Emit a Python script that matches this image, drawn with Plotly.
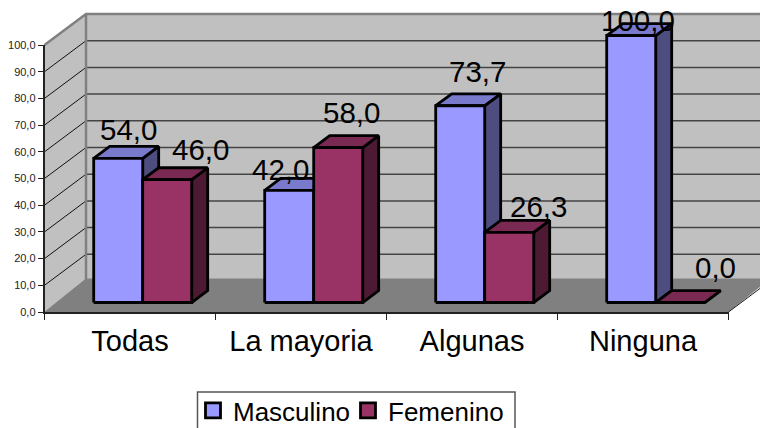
import plotly.graph_objects as go

categories = ["Todas", "La mayoria", "Algunas", "Ninguna"]
masculino = [54.0, 42.0, 73.7, 100.0]
femenino = [46.0, 58.0, 26.3, 0.0]
y_ticks = [0, 10, 20, 30, 40, 50, 60, 70, 80, 90, 100]

# value label offsets in pixels relative to the back of each bar's top
label_dx = {"m": [-5.5, -24.5, 1, -9.5], "f": [17.5, -3, 13, 19]}
label_dy = {"m": [-2, -10, 4, -15], "f": [0, 5, -5, 5]}

W, H = 760, 428
PL, PR, PT, PB = 44.5, 728.5, 45, 312   # front plane of the chart, in pixels
UX = (PR - PL) / 4
UY = (PB - PT) / 100
DEPTH_X, DEPTH_Y = 41.5 / UX, 31 / UY
BAR_W = 49 / UX
GAP = (1 - 2 * BAR_W) / 2
F0, FD = 0.306, 0.385
FONT = "Liberation Sans"

fig = go.Figure()


def poly(xs, ys, fill=None, color="black", width=1.0):
    closed = fill is not None
    fig.add_trace(go.Scatter(
        x=list(xs) + ([xs[0]] if closed else []),
        y=list(ys) + ([ys[0]] if closed else []),
        mode="lines",
        fill="toself" if closed else "none",
        fillcolor=fill,
        line=dict(color=color, width=width),
        hoverinfo="skip", showlegend=False,
    ))


# walls and floor
xr = 4 + DEPTH_X
poly([0, DEPTH_X, DEPTH_X, 0], [0, DEPTH_Y, 100 + DEPTH_Y, 100], "#C0C0C0", "#C0C0C0", 0.5)
poly([DEPTH_X, xr, xr, DEPTH_X], [DEPTH_Y, DEPTH_Y, 100 + DEPTH_Y, 100 + DEPTH_Y], "#C0C0C0", "#C0C0C0", 0.5)
for t in y_ticks[1:-1]:
    poly([DEPTH_X, xr], [t + DEPTH_Y, t + DEPTH_Y], None, "#444444", 1.5)
for t in y_ticks[1:-1]:
    poly([0, DEPTH_X], [t, t + DEPTH_Y], None, "#111111", 1)
poly([0, 4, xr, DEPTH_X], [0, 0, DEPTH_Y + 0.8, DEPTH_Y + 0.8], "#808080", "#808080", 0.5)
poly([4, xr], [0, DEPTH_Y], None, "#222222", 1)
poly([0, DEPTH_X, xr], [100, 100 + DEPTH_Y, 100 + DEPTH_Y], None, "#808080", 2.5)
poly([DEPTH_X, DEPTH_X], [DEPTH_Y, 100 + DEPTH_Y], None, "#808080", 2.5)


def bar(i, slot, v, front, top, side):
    x0 = i + GAP + slot * BAR_W + F0 * DEPTH_X
    x1 = x0 + BAR_W
    y0 = F0 * DEPTH_Y
    y1 = v + y0
    dx, dy = FD * DEPTH_X, FD * DEPTH_Y
    poly([x1, x1 + dx, x1 + dx, x1], [y0, y0 + dy, y1 + dy, y1], side, "black", 2.8)
    poly([x0, x1, x1 + dx, x0 + dx], [y1, y1, y1 + dy, y1 + dy], top, "black", 2.8)
    poly([x0, x1, x1, x0], [y0, y0, y1, y1], front, "black", 2.8)


for i in range(len(categories)):
    bar(i, 0, masculino[i], "#9999FF", "#7A7ACC", "#4D4D80")
    bar(i, 1, femenino[i], "#993366", "#7A2952", "#4D1A33")

# value labels
for key, slot, vals in (("m", 0, masculino), ("f", 1, femenino)):
    for i, v in enumerate(vals):
        fig.add_annotation(
            x=i + GAP + (slot + 0.5) * BAR_W + (F0 + FD) * DEPTH_X,
            y=v + (F0 + FD) * DEPTH_Y,
            text=f"{v:.1f}".replace(".", ","),
            showarrow=False, yanchor="bottom", xanchor="center",
            xshift=label_dx[key][i], yshift=label_dy[key][i],
            font=dict(family=FONT, size=29.5, color="black"),
        )

# legend keys
for name, color in (("Masculino", "#9999FF"), ("Femenino", "#993366")):
    fig.add_trace(go.Scatter(
        x=[None], y=[None], mode="markers", name=name,
        marker=dict(symbol="square", size=15, color=color, line=dict(color="black", width=2.8)),
    ))

# carrier for the visible axes
fig.add_trace(go.Scatter(x=[None], y=[None], xaxis="x2", yaxis="y2", mode="markers",
                         showlegend=False, hoverinfo="skip"))

# legend frame
fig.add_shape(type="rect", xref="paper", yref="paper", layer="below",
              x0=197.5 / W, x1=515 / W, y0=1 - 436 / H, y1=1 - 392 / H,
              line=dict(color="#555555", width=1.5), fillcolor="white")

fig.update_layout(
    width=W, height=H, autosize=False,
    margin=dict(l=0, r=0, t=0, b=0, autoexpand=False),
    paper_bgcolor="white", plot_bgcolor="rgba(0,0,0,0)",
    hovermode=False,
    font=dict(family=FONT, color="black"),
    legend=dict(
        orientation="h", x=193 / W, y=1 - 387 / H, xanchor="left", yanchor="top",
        borderwidth=0, bgcolor="rgba(0,0,0,0)",
        font=dict(family=FONT, size=26, color="black"),
        itemwidth=30, entrywidth=110, entrywidthmode="pixels",
    ),
    # drawing axes: same scale as the visible axes, spanning the whole page
    xaxis=dict(domain=[0, 1], range=[-PL / UX, (W - PL) / UX], visible=False, fixedrange=True),
    yaxis=dict(domain=[0, 1], range=[-(H - PB) / UY, PB / UY], visible=False, fixedrange=True),
    xaxis2=dict(
        domain=[PL / W, PR / W], anchor="y2", range=[0, 4],
        showgrid=False, zeroline=False, showline=True,
        linecolor="#222222", linewidth=1.5,
        tickmode="array", tickvals=[i + 0.5 for i in range(len(categories))],
        ticktext=categories, ticks="", ticklen=0, ticklabelstandoff=2,
        tickfont=dict(family=FONT, size=29, color="black"),
        minor=dict(tickmode="array", tickvals=list(range(len(categories) + 1)),
                   ticks="outside", ticklen=6, tickcolor="#222222", tickwidth=1, showgrid=False),
    ),
    yaxis2=dict(
        domain=[1 - PB / H, 1 - PT / H], anchor="x2", range=[0, 100],
        showgrid=False, zeroline=False, showline=True,
        linecolor="#222222", linewidth=1.5,
        tickmode="array", tickvals=y_ticks,
        ticktext=[f"{t:.1f}".replace(".", ",") for t in y_ticks],
        ticks="outside", ticklen=5, tickcolor="#222222", tickwidth=1,
        tickfont=dict(family=FONT, size=11, color="#222222"),
    ),
)
fig.write_html("out.html", config=dict(displayModeBar=False),
               post_script="document.body.style.margin='0';document.documentElement.style.overflow='hidden';")
